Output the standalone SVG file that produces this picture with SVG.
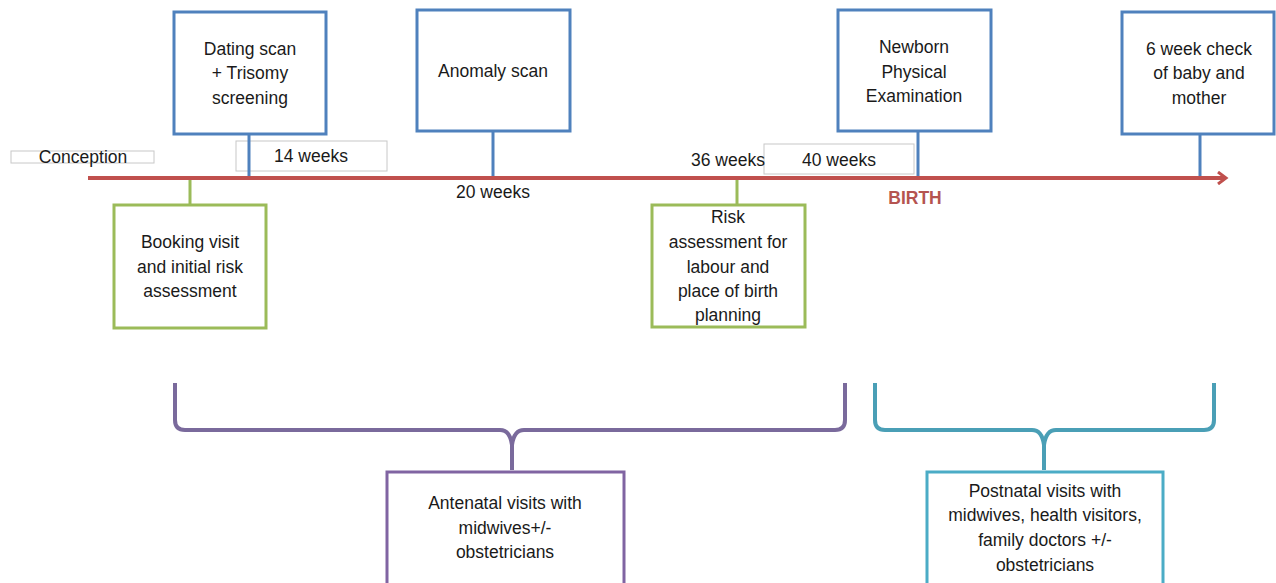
<svg xmlns="http://www.w3.org/2000/svg" width="1276" height="583" viewBox="0 0 1276 583">
<defs>
<style>
text{font-family:"Liberation Sans",Arial,sans-serif;font-size:17.5px;fill:#1a1a1a;text-anchor:middle}
.blue{fill:#fff;stroke:#4f81bd;stroke-width:3}
.green{fill:#fff;stroke:#9bbb59;stroke-width:3}
.bl{stroke:#4f81bd;stroke-width:3;fill:none}
.gl{stroke:#9bbb59;stroke-width:3;fill:none}
.lbl{fill:#fff;stroke:#c8c8c8;stroke-width:1}
.brace{fill:none;stroke-width:4;stroke-linejoin:round}
</style>
<marker id="arr" markerWidth="12" markerHeight="14" refX="8" refY="7" orient="auto" markerUnits="userSpaceOnUse">
<path d="M1,1 L9,7 L1,13" fill="none" stroke="#c0504d" stroke-width="3"/>
</marker>
</defs>
<g id="conception">
<rect class="lbl" x="11" y="151" width="143" height="12"/>
<text x="83" y="163">Conception</text>
</g>
<g id="w14">
<rect class="lbl" x="236" y="141" width="151" height="30"/>
<text x="311" y="162">14 weeks</text>
</g>
<g id="w40">
<rect class="lbl" x="764" y="144" width="150" height="30"/>
<text x="839" y="166">40 weeks</text>
</g>
<g id="connectors">
<line x1="88" y1="178" x2="1225" y2="178" stroke="#c0504d" stroke-width="4" marker-end="url(#arr)"/>
<line class="bl" x1="249" y1="134" x2="249" y2="176"/>
<line class="bl" x1="493" y1="131" x2="493" y2="176"/>
<line class="bl" x1="918" y1="131" x2="918" y2="176"/>
<line class="bl" x1="1200" y1="134" x2="1200" y2="176"/>
<line class="gl" x1="190" y1="180" x2="190" y2="205"/>
<line class="gl" x1="737" y1="180" x2="737" y2="205"/>
<path class="brace" stroke="#7a6a9c" d="M175,383 V420 Q175,430 185,430 H500 Q510,430 512,445 V470 M845,383 V420 Q845,430 835,430 H524 Q514,430 512,445"/>
<path class="brace" stroke="#4a9fb6" d="M875,383 V420 Q875,430 885,430 H1032 Q1042,430 1044,445 V470 M1214,383 V420 Q1214,430 1204,430 H1056 Q1046,430 1044,445"/>
</g>
<g id="w20"><text x="493" y="198">20 weeks</text></g>
<g id="w36"><text x="728" y="166">36 weeks</text></g>
<g id="birth"><text x="915" y="204" style="fill:#b55450;font-weight:bold">BIRTH</text></g>
<g id="dating">
<rect class="blue" x="174" y="12" width="152" height="122"/>
<text x="250" y="55">Dating scan</text>
<text x="250" y="79">+ Trisomy</text>
<text x="250" y="104">screening</text>
</g>
<g id="anomaly">
<rect class="blue" x="417" y="10" width="153" height="121"/>
<text x="493" y="77">Anomaly scan</text>
</g>
<g id="newborn">
<rect class="blue" x="838" y="10" width="153" height="121"/>
<text x="914" y="53">Newborn</text>
<text x="914" y="78">Physical</text>
<text x="914" y="102">Examination</text>
</g>
<g id="sixweek">
<rect class="blue" x="1122" y="12" width="152" height="122"/>
<text x="1199" y="55">6 week check</text>
<text x="1199" y="79">of baby and</text>
<text x="1199" y="104">mother</text>
</g>
<g id="booking">
<rect class="green" x="114" y="205" width="152" height="123"/>
<text x="190" y="248">Booking visit</text>
<text x="190" y="273">and initial risk</text>
<text x="190" y="297">assessment</text>
</g>
<g id="risk">
<rect class="green" x="652" y="205" width="153" height="122"/>
<text x="728" y="223">Risk</text>
<text x="728" y="248">assessment for</text>
<text x="728" y="273">labour and</text>
<text x="728" y="297">place of birth</text>
<text x="728" y="321">planning</text>
</g>
<g id="antenatal">
<rect x="387" y="472" width="237" height="115" fill="#fff" stroke="#8064a2" stroke-width="3"/>
<text x="505" y="509">Antenatal visits with</text>
<text x="505" y="534">midwives+/-</text>
<text x="505" y="558">obstetricians</text>
</g>
<g id="postnatal">
<rect x="927" y="472" width="236" height="115" fill="#fff" stroke="#4bacc6" stroke-width="3"/>
<text x="1045" y="497">Postnatal visits with</text>
<text x="1045" y="521">midwives, health visitors,</text>
<text x="1045" y="546">family doctors +/-</text>
<text x="1045" y="571">obstetricians</text>
</g>
</svg>
